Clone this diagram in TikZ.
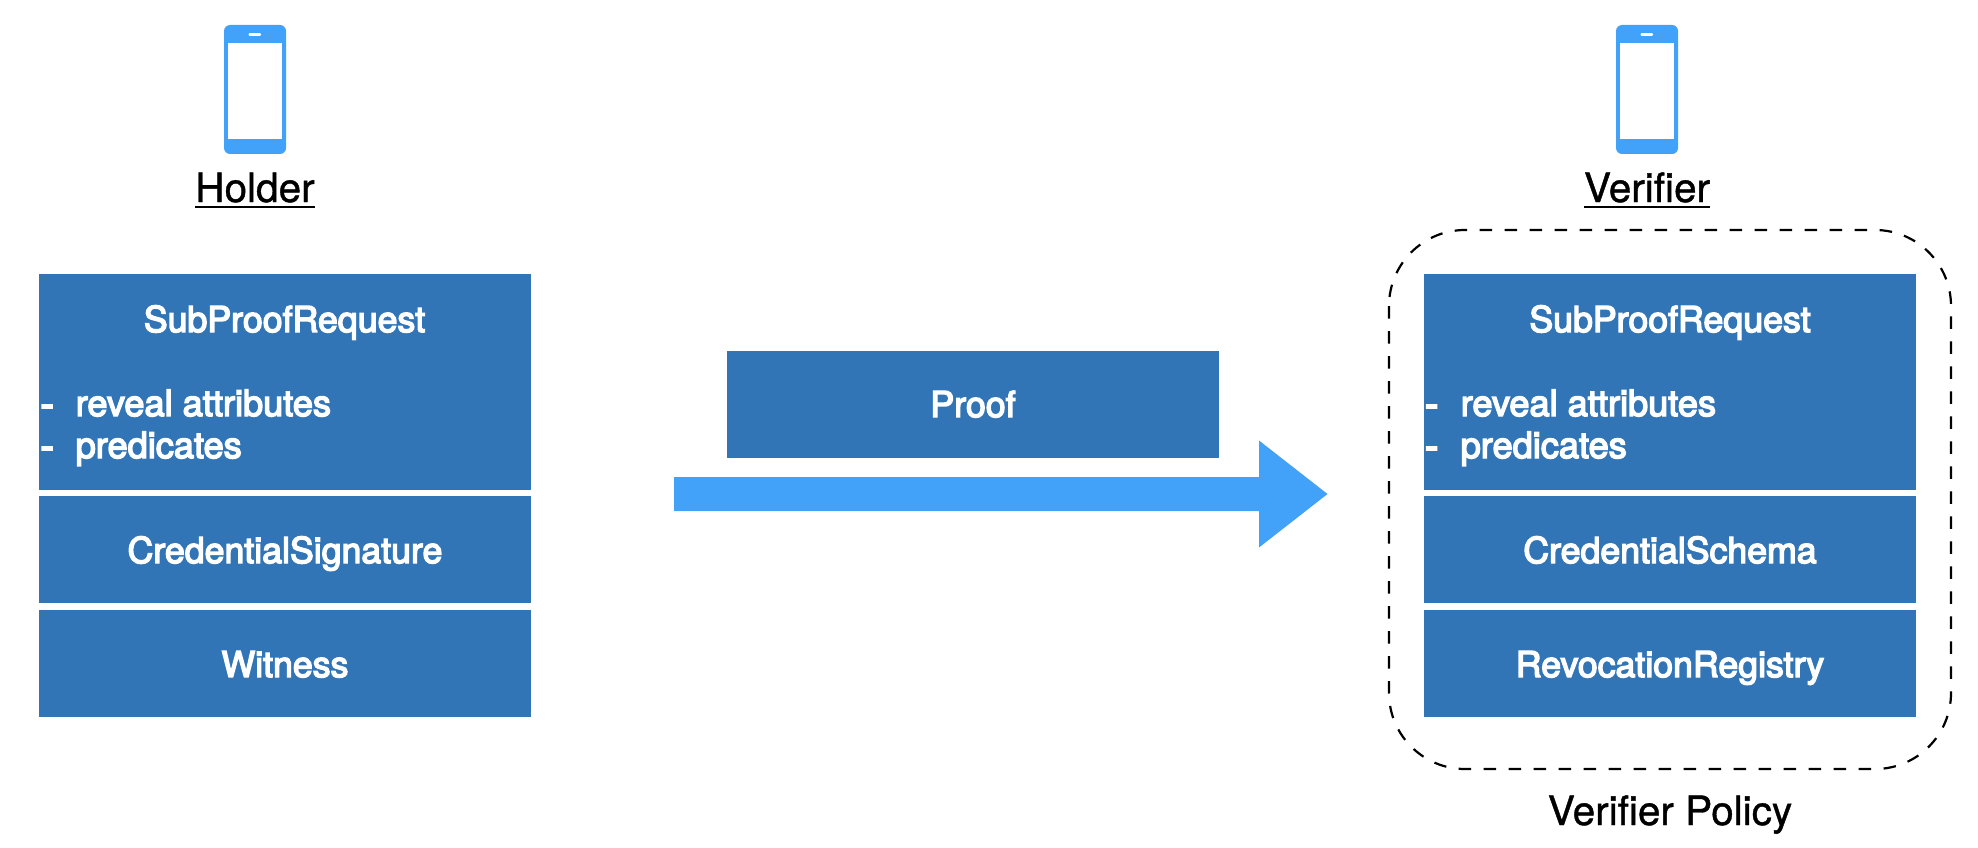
\documentclass[tikz,border=0pt]{standalone}
\usepackage{fontspec}
\setmainfont[FakeBold=1]{TeX Gyre Heros}
\newfontfamily\boxfont[FakeBold=4]{TeX Gyre Heros}
\definecolor{boxblue}{HTML}{3175B6}
\definecolor{phoneblue}{HTML}{42A1F8}
\newcommand{\ulabel}[1]{\setbox0\hbox{#1}\rlap{\rule[-6pt]{\wd0}{2.2pt}}\box0}
\tikzset{
  x=1pt, y=-1pt,
  block/.style={fill=boxblue, draw=none, inner sep=0pt, outer sep=0pt, minimum width=492pt, anchor=north west},
  boxtext/.style={text=white, inner sep=0pt, anchor=base, font=\boxfont\fontsize{35.7}{35.7}\selectfont},
  boxtextl/.style={boxtext, anchor=base west, font=\boxfont\fontsize{36.2}{36.2}\selectfont},
  dashmark/.style={boxtextl, font=\boxfont\fontsize{42}{42}\selectfont},
  caption/.style={text=black, inner sep=0pt, anchor=base, font=\fontsize{40.5}{40.5}\selectfont},
  phonebody/.style={fill=phoneblue, rounded corners=6pt},
  phonescreen/.style={fill=white},
}
\begin{document}
\begin{tikzpicture}
\useasboundingbox (0,0) rectangle (1978,848);
\fill[white] (0,0) rectangle (1978,848);

% Holder phone
\fill[phonebody] (224,25) rectangle (286,154);
\fill[phonescreen] (228,43) rectangle (282,139);
\fill[phonescreen, rounded corners=1pt] (248.5,33.2) rectangle (261,35.8);
\node[caption] (holder) at (255,202) {\ulabel{Holder}};

% Verifier phone
\fill[phonebody] (1616,25) rectangle (1678,154);
\fill[phonescreen] (1620,43) rectangle (1674,139);
\fill[phonescreen, rounded corners=1pt] (1640.5,33.2) rectangle (1653,35.8);
\node[caption] (verifier) at (1647,202) {\ulabel{Verifier}};

% Holder stack
\node[block, minimum height=216pt] (hsub) at (39,274) {};
\node[block, minimum height=107pt] (hcred) at (39,496) {};
\node[block, minimum height=107pt] (hwit) at (39,610) {};
\node[boxtext] (hsubt) at (284.5,332) {SubProofRequest};
\node[dashmark] (hd1) at (40,418) {-};
\node[boxtextl] (hr) at (75.5,416) {reveal attributes};
\node[dashmark] (hd2) at (40,460) {-};
\node[boxtextl] (hp) at (75.5,458) {predicates};
\node[boxtext] (hcredt) at (285,563) {CredentialSignature};
\node[boxtext] (hwitt) at (285,677) {Witness};

% Verifier stack
\node[block, minimum height=216pt] (vsub) at (1424,274) {};
\node[block, minimum height=107pt] (vcred) at (1424,496) {};
\node[block, minimum height=107pt] (vrev) at (1424,610) {};
\node[boxtext] (vsubt) at (1670,332) {SubProofRequest};
\node[dashmark] (vd1) at (1424.5,418) {-};
\node[boxtextl] (vr) at (1460.5,416) {reveal attributes};
\node[dashmark] (vd2) at (1424.5,460) {-};
\node[boxtextl] (vp) at (1460.5,458) {predicates};
\node[boxtext] (vcredt) at (1670,563) {CredentialSchema};
\node[boxtext] (vrevt) at (1670,677) {RevocationRegistry};

% Proof
\node[block, minimum height=107pt] (proof) at (727,351) {};
\node[boxtext] (prooft) at (973,417) {Proof};

% Block arrow
\fill[phoneblue] (674,477) -- (1259,477) -- (1259,440.5) -- (1327.5,494) -- (1259,547.5) -- (1259,511) -- (674,511) -- cycle;

% Policy
\draw[black, line width=2.2pt, dash pattern=on 12.5pt off 12.5pt, rounded corners=76pt] (1389,230) rectangle (1951,769);
\node[caption] (policy) at (1670,825) {Verifier Policy};
\end{tikzpicture}
\end{document}
